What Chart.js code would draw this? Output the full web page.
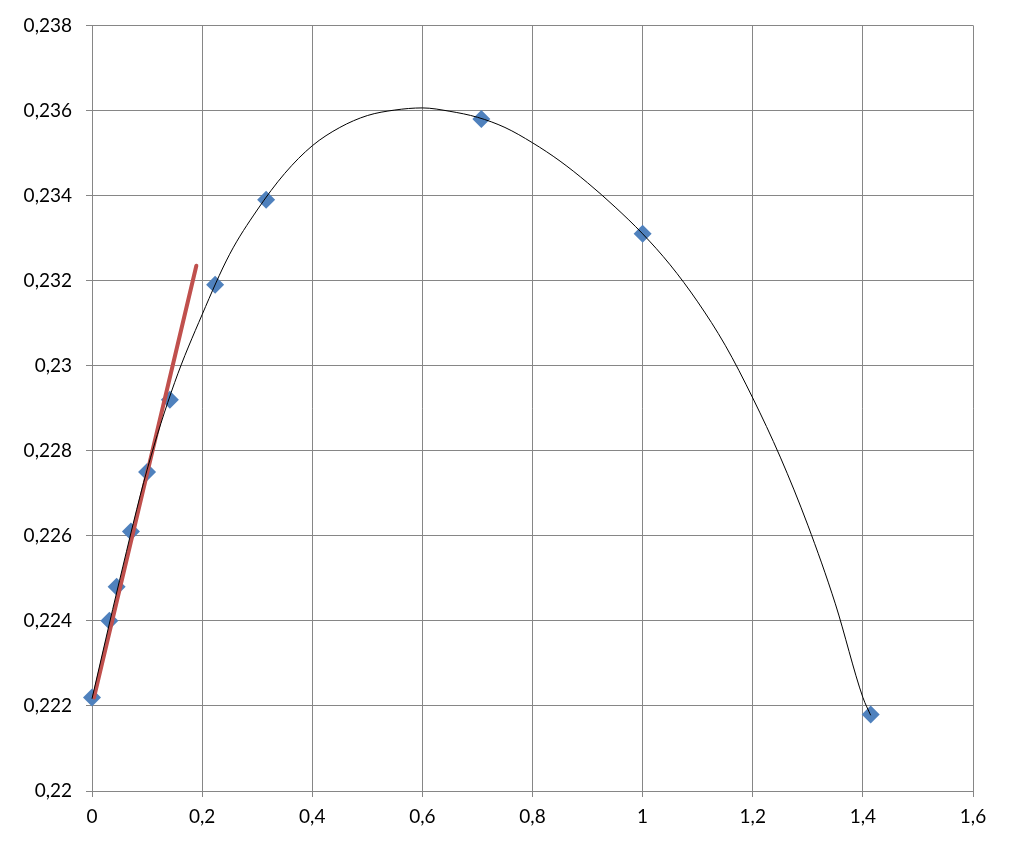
<!DOCTYPE html>
<html>
<head>
<meta charset="utf-8">
<script src="https://cdn.jsdelivr.net/npm/chart.js@4"></script>
<style>
html,body{margin:0;padding:0;background:#fff;}
canvas{display:block;}
</style>
</head>
<body>
<canvas id="c" width="1009" height="856"></canvas>
<script>
// Measured points (diamond markers)
const pointX = [0, 0.0316, 0.0447, 0.0707, 0.1, 0.1414, 0.2236, 0.3162, 0.7071, 1, 1.4142];
const pointY = [0.2222, 0.2240, 0.2248, 0.2261, 0.2275, 0.2292, 0.2319, 0.2339, 0.2358, 0.2331, 0.2218];

// Polynomial trend curve (black)
const curveX = [0, 0.05, 0.1, 0.15, 0.2, 0.25, 0.3, 0.35, 0.4, 0.45, 0.5, 0.55, 0.6, 0.65, 0.7, 0.75, 0.8, 0.85, 0.9, 0.95, 1.0, 1.05, 1.1, 1.15, 1.2, 1.25, 1.3, 1.35, 1.4, 1.4142];
const curveY = [0.22217, 0.22495, 0.22755, 0.2296, 0.2312, 0.23262, 0.23366, 0.23452, 0.23517, 0.2356, 0.23588, 0.23601, 0.23606, 0.23598, 0.23584, 0.2356, 0.23524, 0.23481, 0.2343, 0.23373, 0.2331, 0.23237, 0.2315, 0.23048, 0.22924, 0.22785, 0.22625, 0.2244, 0.2222, 0.22178];

// Initial tangent line (red)
const tangentX = [0.0036, 0.1895];
const tangentY = [0.2222, 0.23235];

// Tick labels
const xTickLabels = ["0", "0,2", "0,4", "0,6", "0,8", "1", "1,2", "1,4", "1,6"];
const yTickLabels = ["0,22", "0,222", "0,224", "0,226", "0,228", "0,23", "0,232", "0,234", "0,236", "0,238"];

const zip = (xs, ys) => xs.map((x, i) => ({x: x, y: ys[i]}));

const gridColor = '#868686';
const font = {family: 'Lato, "Open Sans", sans-serif', size: 19};

new Chart(document.getElementById('c'), {
  type: 'scatter',
  data: {
    datasets: [
      {
        data: zip(curveX, curveY),
        showLine: true,
        borderColor: '#000000',
        borderWidth: 1,
        pointRadius: 0,
        cubicInterpolationMode: 'monotone',
        clip: false,
        order: 0
      },
      {
        data: zip(tangentX, tangentY),
        showLine: true,
        borderColor: '#C0504D',
        borderWidth: 4,
        borderCapStyle: 'round',
        pointRadius: 0,
        clip: false,
        order: 1
      },
      {
        data: zip(pointX, pointY),
        showLine: false,
        pointStyle: 'rectRot',
        pointRadius: 9,
        backgroundColor: '#4F81BD',
        borderColor: '#4F81BD',
        borderWidth: 0,
        clip: false,
        order: 2
      }
    ]
  },
  options: {
    responsive: false,
    animation: false,
    events: [],
    layout: {padding: {top: 23, right: 36, left: 0, bottom: 0}},
    plugins: {legend: {display: false}, tooltip: {enabled: false}},
    scales: {
      x: {
        type: 'linear',
        min: 0, max: 1.6,
        afterFit: (s) => { s.height = 65; },
        ticks: {
          stepSize: 0.2,
          color: '#000',
          font: font,
          padding: 8,
          maxRotation: 0,
          autoSkip: false,
          callback: (v, i) => xTickLabels[i]
        },
        grid: {color: gridColor, lineWidth: 1, tickLength: 6},
        border: {color: gridColor, width: 1}
      },
      y: {
        type: 'linear',
        min: 0.22, max: 0.238,
        afterFit: (s) => { s.width = 92; },
        ticks: {
          stepSize: 0.002,
          color: '#000',
          font: font,
          padding: 14,
          autoSkip: false,
          callback: (v, i) => yTickLabels[i]
        },
        grid: {color: gridColor, lineWidth: 1, tickLength: 6},
        border: {color: gridColor, width: 1}
      }
    }
  }
});
</script>
</body>
</html>
